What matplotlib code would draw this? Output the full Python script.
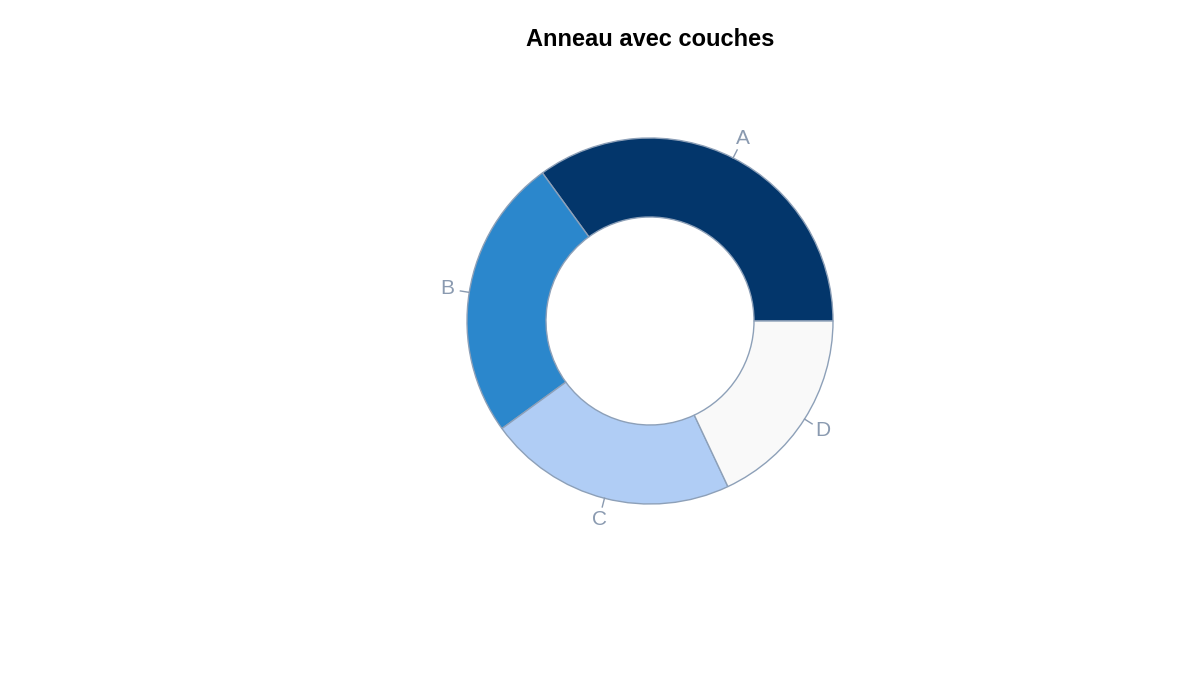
import numpy as np
import matplotlib
matplotlib.use("Agg")
import matplotlib.pyplot as plt

categories = ["A", "B", "C", "D"]
values = [35, 25, 22, 18]
colors = ["#03366b", "#2b87cc", "#b0cdf5", "#f9f9f9"]

fig = plt.figure(figsize=(12, 7), dpi=100)
ax = fig.add_axes([0, 0, 1, 1])
cx, cy, R, r = 650, 379, 183, 104
wedges, _ = ax.pie(values, colors=colors, startangle=0, counterclock=True,
                   center=(cx, cy), radius=R,
                   wedgeprops=dict(width=R - r, edgecolor="#8da0b8", linewidth=1))
ax.set_xlim(0, 1200)
ax.set_ylim(0, 700)
ax.set_aspect("equal")
ax.axis("off")

lc = "#8a9ab0"
for w, lab in zip(wedges, categories):
    mid = np.deg2rad((w.theta1 + w.theta2) / 2)
    c, s = np.cos(mid), np.sin(mid)
    ax.plot([cx + R * c, cx + (R + 9) * c], [cy + R * s, cy + (R + 9) * s], color=lc, lw=1)
    ax.text(cx + (R + 22) * c, cy + (R + 22) * s, lab, color=lc, fontsize=15,
            ha="center", va="center", family="Liberation Sans")

fig.text(650 / 1200, 1 - 40 / 700, "Anneau avec couches", ha="center", va="center",
         fontsize=17, fontweight="bold", family="Liberation Sans")
fig.savefig("out.png", dpi=100)
